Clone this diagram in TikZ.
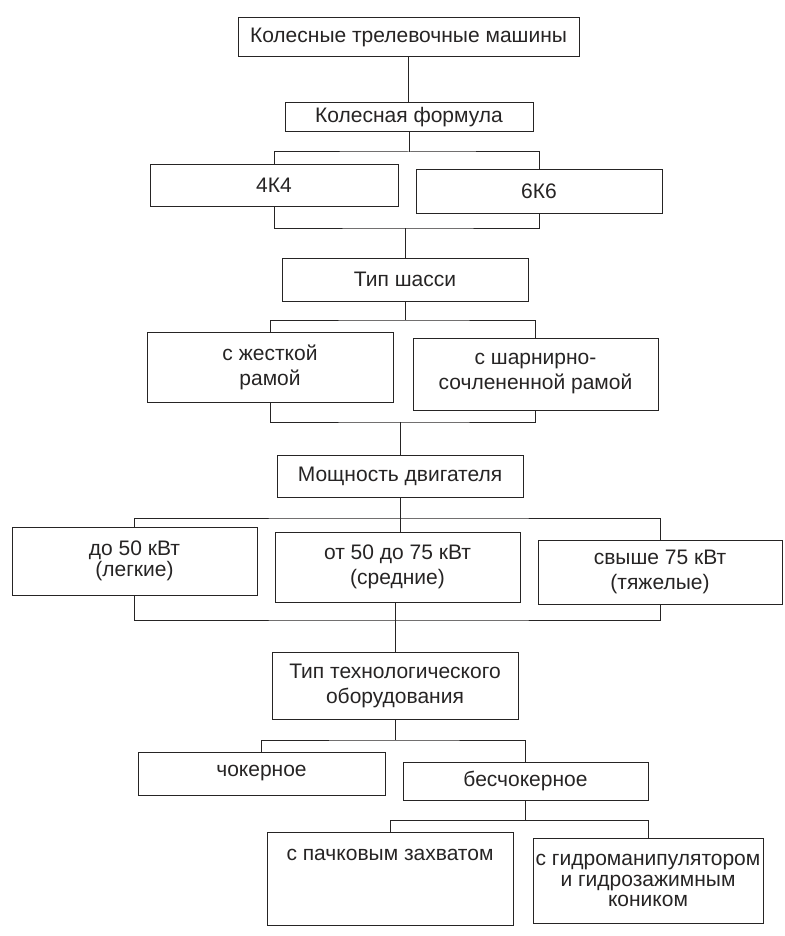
\documentclass[tikz,border=0pt]{standalone}
\usepackage{fontspec}
\setmainfont{Liberation Sans}
\usepackage{tikz}
\usetikzlibrary{positioning}
\definecolor{ink}{RGB}{38,36,36}
\newcommand{\cellbox}[7]{\node[cell,#1,minimum width={#5-#3},minimum height={#6-#4}] (#2) at ({(#3+#5)/2},{(#4+#6)/2}) {#7};}

\begin{document}
\begin{tikzpicture}[x=1pt,y=-1pt,
  cell/.style={draw=ink,line width=1pt,inner sep=1pt,align=center,text=ink,font=\fontsize{21}{25}\selectfont},
  tight/.style={font=\fontsize{21}{20.5}\selectfont},
  link/.style={draw=ink,line width=1pt}]
\useasboundingbox (0,0) rectangle (784,936);
\cellbox{}{top}{238}{18}{579}{57}{Колесные трелевочные машины}
\cellbox{}{formula}{285}{103}{533}{132}{Колесная формула}
\cellbox{}{k4}{150}{165}{398}{206}{4К4}
\cellbox{}{k6}{416}{170}{662}{213}{6К6}
\cellbox{}{chassis}{282}{258}{528}{301}{Тип шасси}
\cellbox{}{rigid}{147}{332}{393}{402}{с жесткой\\рамой}
\cellbox{}{artic}{413}{338}{658}{410}{с шарнирно-\\сочлененной рамой}
\cellbox{}{power}{277}{455}{523}{497}{Мощность двигателя}
\cellbox{tight}{light}{12}{527}{257}{595}{до 50 кВт\\(легкие)}
\cellbox{}{medium}{275}{532}{520}{602}{от 50 до 75 кВт\\(средние)}
\cellbox{}{heavy}{538}{540}{782}{604}{свыше 75 кВт\\(тяжелые)}
\cellbox{}{equip}{272}{652}{518}{719}{Тип технологического\\оборудования}
\cellbox{}{choker}{138}{752}{385}{795}{чокерное}
\cellbox{}{nochoker}{403}{762}{648}{800}{бесчокерное}
\cellbox{tight}{bundle}{267}{832}{513}{925}{с пачковым захватом\\\strut\\\strut}
\cellbox{tight}{manip}{533}{838}{763}{923}{с гидроманипулятором\\и гидрозажимным\\коником}

\coordinate (f1) at (409,152);
\coordinate (j1) at (409,228);
\coordinate (f2) at (405,320);
\coordinate (j2) at (405,422);
\coordinate (f3) at (400,518);
\coordinate (j3) at (400,620);
\coordinate (f4) at (395,740);
\coordinate (f5) at (525,820);

\draw[link] (top.south) -- (top.south |- formula.north);
\draw[link] (formula.south) -- (formula.south |- f1);
\draw[link] (k4.north) |- (f1) -| (k6.north);
\draw[link] (k4.south) |- (j1) -| (k6.south);
\draw[link] (chassis.north) -- (chassis.north |- j1);
\draw[link] (chassis.south) -- (chassis.south |- f2);
\draw[link] (rigid.north) |- (f2) -| (artic.north);
\draw[link] (rigid.south) |- (j2) -| (artic.south);
\draw[link] (power.north) -- (power.north |- j2);
\draw[link] (power.south) -- (power.south |- medium.north);
\draw[link] (light.north) |- (f3) -| (heavy.north);
\draw[link] (light.south) |- (j3) -| (heavy.south);
\draw[link] (equip.north) -- (equip.north |- medium.south);
\draw[link] (equip.south) -- (equip.south |- f4);
\draw[link] (choker.north) |- (f4) -| (nochoker.north);
\draw[link] (nochoker.south) -- (nochoker.south |- f5);
\draw[link] (bundle.north) |- (f5) -| (manip.north);
\end{tikzpicture}
\end{document}
